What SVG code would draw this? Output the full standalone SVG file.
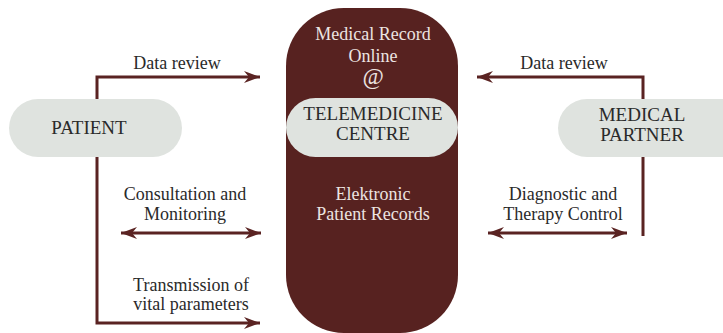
<svg xmlns="http://www.w3.org/2000/svg" width="723" height="333" viewBox="0 0 723 333">
<defs>
<marker id="ah" markerUnits="userSpaceOnUse" markerWidth="20" markerHeight="14" viewBox="-17 -7 18 14" refX="0" refY="0" orient="auto-start-reverse">
<path d="M0,0 L-16,-6 L-11,0 L-16,6 Z" fill="#5a2322"/>
</marker>
</defs>
<style>
.ln{fill:none;stroke:#5a2322;stroke-width:3}
.t{font-family:"Liberation Serif",serif;font-size:18px;fill:#2a2a2a;text-anchor:middle}
.tl{font-family:"Liberation Serif",serif;font-size:18px;fill:#ece4e0;text-anchor:middle}
.c{font-size:19px}
.pill{fill:#dfe3df}
</style>
<rect width="723" height="333" fill="#ffffff"/>
<g id="connectors">
<polyline class="ln" points="97,99 97,77 260,77" marker-end="url(#ah)"/>
<polyline class="ln" points="97,157 97,323 260,323" marker-end="url(#ah)"/>
<line class="ln" x1="121" y1="233" x2="261" y2="233" marker-start="url(#ah)" marker-end="url(#ah)"/>
<polyline class="ln" points="643,99 643,77 477,77" marker-end="url(#ah)"/>
<line class="ln" x1="643" y1="157" x2="643" y2="236"/>
<line class="ln" x1="488" y1="233" x2="627" y2="233" marker-start="url(#ah)" marker-end="url(#ah)"/>
</g>
<g id="labels">
<text class="t" x="177" y="69">Data review</text>
<text class="t" x="564" y="69">Data review</text>
<text class="t" x="185" y="200">Consultation and</text>
<text class="t" x="185" y="220">Monitoring</text>
<text class="t" x="191" y="291">Transmission of</text>
<text class="t" x="191" y="310">vital parameters</text>
<text class="t" x="563" y="200">Diagnostic and</text>
<text class="t" x="563" y="220">Therapy Control</text>
</g>
<g id="telemedicine-centre">
<rect x="286" y="8" width="172" height="325" rx="58" fill="#572220"/>
<text class="tl" x="373" y="40">Medical Record</text>
<text class="tl" x="373" y="62">Online</text>
<text class="tl" x="373" y="84" style="font-style:italic;font-size:23px">@</text>
<rect class="pill" x="286" y="98" width="172" height="59" rx="29.5"/>
<text class="t c" x="373" y="120">TELEMEDICINE</text>
<text class="t c" x="373" y="140">CENTRE</text>
<text class="tl" x="373" y="200">Elektronic</text>
<text class="tl" x="373" y="220">Patient Records</text>
</g>
<g id="patient">
<rect class="pill" x="9" y="99" width="173" height="58" rx="29"/>
<text class="t c" x="89" y="134">PATIENT</text>
</g>
<g id="medical-partner">
<rect class="pill" x="558" y="99" width="200" height="58" rx="29"/>
<text class="t c" x="642" y="121">MEDICAL</text>
<text class="t c" x="642" y="141">PARTNER</text>
</g>
</svg>
